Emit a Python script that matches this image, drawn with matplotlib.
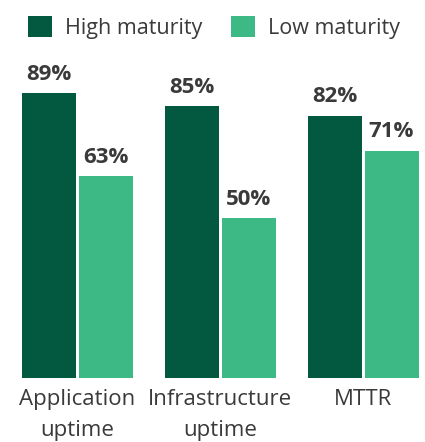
import matplotlib
matplotlib.use('Agg')
import matplotlib.pyplot as plt
import numpy as np

categories = ['Application\nuptime', 'Infrastructure\nuptime', 'MTTR']
high = [89, 85, 82]
low = [63, 50, 71]
series = ['High maturity', 'Low maturity']
colors = ['#02593F', '#3CB985']
text_color = '#3a3a3a'

plt.rcParams['font.family'] = ['Open Sans', 'DejaVu Sans']

fig = plt.figure(figsize=(4.25, 4.42), dpi=100)
ax = fig.add_axes([0, 64 / 442, 1, 378 / 442])

x = np.arange(len(categories))
w = 54 / 143
off = 28.5 / 143
b1 = ax.bar(x - off, high, width=w, color=colors[0], label=series[0])
b2 = ax.bar(x + off, low, width=w, color=colors[1], label=series[1])

for bars in (b1, b2):
    for rect in bars:
        v = rect.get_height()
        ax.annotate(f'{v:.0f}%', (rect.get_x() + rect.get_width() / 2, v),
                    xytext=(0, 6), textcoords='offset points',
                    ha='center', va='bottom', fontsize=16, fontweight='bold',
                    color=text_color)

ax.set_xlim(-77 / 143, (425 - 77) / 143)
ax.set_ylim(0, 378 / 3.2)
ax.set_xticks(x)
ax.set_xticklabels(categories, fontsize=16, color=text_color, linespacing=1.6)
ax.tick_params(axis='x', length=0, pad=8)
ax.set_yticks([])
for s in ax.spines.values():
    s.set_visible(False)

fig.legend(handles=[b1, b2], loc='upper left', bbox_to_anchor=(0.02, 1.008),
           ncol=2, frameon=False, fontsize=15.5, labelcolor=text_color,
           handlelength=1.12, handleheight=1.12, handletextpad=0.62,
           columnspacing=1.3)

fig.savefig('out.png', dpi=100)
